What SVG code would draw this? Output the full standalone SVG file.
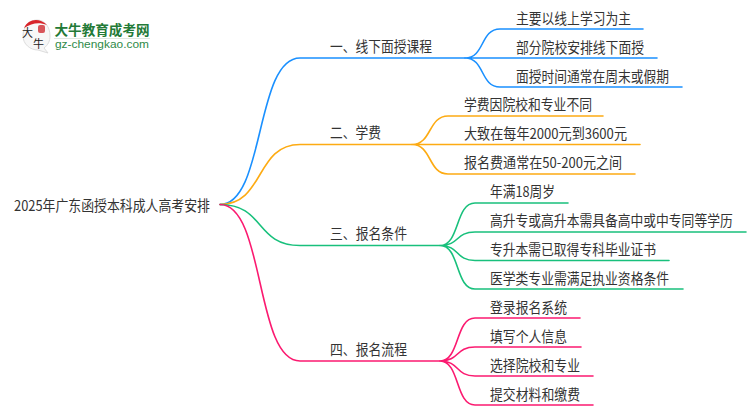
<svg xmlns="http://www.w3.org/2000/svg" width="750" height="410" viewBox="0 0 750 410">
<style>
text{font-family:"Noto Sans CJK SC","Noto Sans",sans-serif;font-size:14.5px;fill:#333}
.l{fill:none;stroke-width:1.6;stroke-linecap:round}
.b{stroke:#1a90ff}.o{stroke:#fdab13}.g{stroke:#18c07c}.p{stroke:#fb1a70}
</style>
<rect width="750" height="410" fill="#fff"/>
<g id="logo">
<path d="M37 20C29 20 23 27 23 36C23 44 30 50 38 50L48 53L44 48C48 45 50 41 50 36C50 27 45 20 37 20Z" fill="#f7f7f7" stroke="#ddd"/>
<path d="M24 28C28 19 39 17 47 25C39 22 32 23 24 28Z" fill="#d8242a"/>
<rect x="38" y="25" width="7" height="8" rx="2" fill="#d8555a"/>
<text x="22" y="37" style="font-size:11px;fill:#222">大</text>
<text x="33" y="48" style="font-size:11px;fill:#222">牛</text>
<text x="54.500" y="35" style="font-size:13.6px;font-weight:700;fill:#237a37">大牛教育成考网</text>
<rect x="54" y="38" width="96" height="1" fill="#dfe8e0"/>
<text x="55" y="47.500" style="font-family:'Liberation Sans',sans-serif;font-size:10px;fill:#2f8a48" textLength="94" lengthAdjust="spacingAndGlyphs">gz-chengkao.com</text>
</g>
<g id="connectors">
<path class="l b" d="M220 204.500C265 204.500 255 58 300 58H465"/>
<path class="l o" d="M220 204.500C265 204.500 255 144.500 300 144.500H412"/>
<path class="l g" d="M220 204.500C265 204.500 255 245.500 300 245.500H440"/>
<path class="l p" d="M220 204.500C265 204.500 255 361 300 361H440"/>
<path class="l b" d="M465 58C485 58 480 29 500 29H643M465 58H657M465 58C485 58 480 87 500 87H682"/>
<path class="l o" d="M412 144.500C432 144.500 428 116 448 116H603M412 144.500H640M412 144.500C432 144.500 428 174 448 174H635"/>
<path class="l g" d="M440 245.500C460 245.500 455 203 475 203H568M440 245.500C460 245.500 455 232 475 232H746M440 245.500C460 245.500 455 260.500 475 260.500H669M440 245.500C460 245.500 455 289 475 289H683"/>
<path class="l p" d="M440 361C460 361 455 318 475 318H580M440 361C460 361 455 347 475 347H581M440 361C460 361 455 376 475 376H593M440 361C460 361 455 405 475 405H593"/>
</g>
<g id="root"><text x="14" y="211" textLength="196" lengthAdjust="spacingAndGlyphs">2025年广东函授本科成人高考安排</text></g>
<g id="b1"><text x="330" y="52" textLength="102" lengthAdjust="spacingAndGlyphs">一、线下面授课程</text></g>
<g id="b2"><text x="330" y="138" textLength="51" lengthAdjust="spacingAndGlyphs">二、学费</text></g>
<g id="b3"><text x="330" y="239" textLength="77" lengthAdjust="spacingAndGlyphs">三、报名条件</text></g>
<g id="b4"><text x="330" y="355" textLength="77" lengthAdjust="spacingAndGlyphs">四、报名流程</text></g>
<g id="n11"><text x="516" y="24" textLength="115" lengthAdjust="spacingAndGlyphs">主要以线上学习为主</text></g>
<g id="n12"><text x="516" y="53" textLength="128" lengthAdjust="spacingAndGlyphs">部分院校安排线下面授</text></g>
<g id="n13"><text x="516" y="82" textLength="153" lengthAdjust="spacingAndGlyphs">面授时间通常在周末或假期</text></g>
<g id="n21"><text x="464" y="110" textLength="128" lengthAdjust="spacingAndGlyphs">学费因院校和专业不同</text></g>
<g id="n22"><text x="464" y="139" textLength="163" lengthAdjust="spacingAndGlyphs">大致在每年2000元到3600元</text></g>
<g id="n23"><text x="464" y="168" textLength="158" lengthAdjust="spacingAndGlyphs">报名费通常在50-200元之间</text></g>
<g id="n31"><text x="490" y="197" textLength="65" lengthAdjust="spacingAndGlyphs">年满18周岁</text></g>
<g id="n32"><text transform="translate(490 226) scale(.882 1)">高升专或高升本需具备高中或中专同等学历</text></g>
<g id="n33"><text x="490" y="255" textLength="166" lengthAdjust="spacingAndGlyphs">专升本需已取得专科毕业证书</text></g>
<g id="n34"><text x="490" y="284" textLength="179" lengthAdjust="spacingAndGlyphs">医学类专业需满足执业资格条件</text></g>
<g id="n41"><text x="490" y="313" textLength="77" lengthAdjust="spacingAndGlyphs">登录报名系统</text></g>
<g id="n42"><text x="490" y="342" textLength="77" lengthAdjust="spacingAndGlyphs">填写个人信息</text></g>
<g id="n43"><text x="490" y="371" textLength="90" lengthAdjust="spacingAndGlyphs">选择院校和专业</text></g>
<g id="n44"><text x="490" y="400" textLength="90" lengthAdjust="spacingAndGlyphs">提交材料和缴费</text></g>
</svg>
